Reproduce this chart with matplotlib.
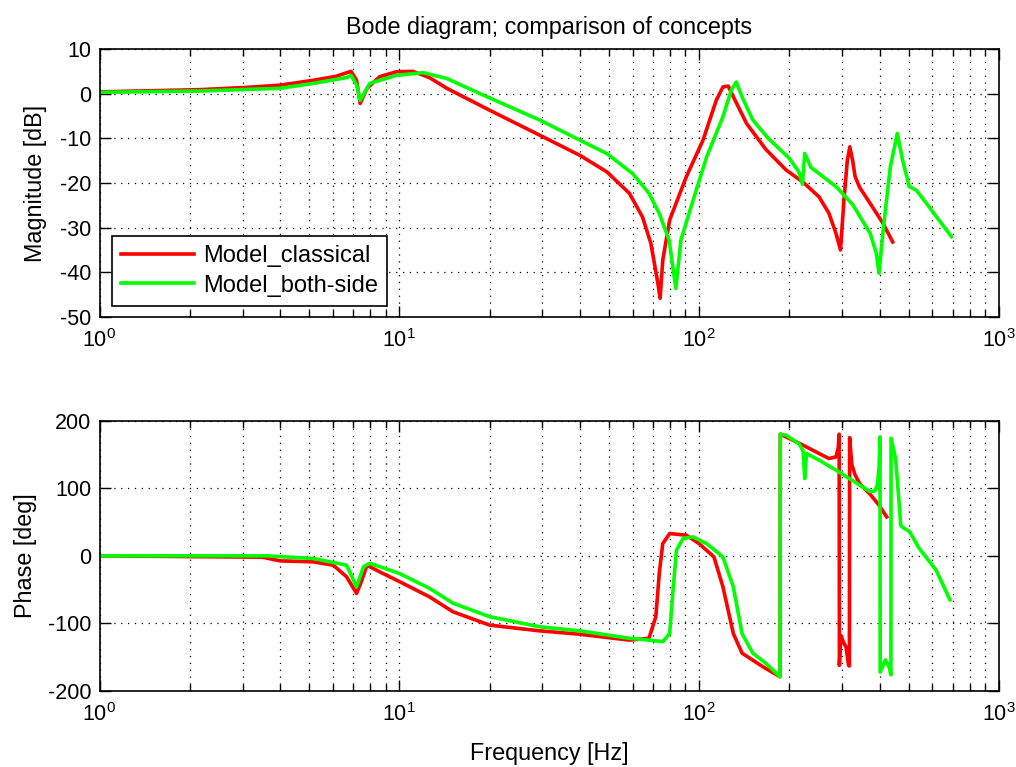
import matplotlib
matplotlib.use("Agg")
import matplotlib.pyplot as plt
from matplotlib.ticker import LogLocator, NullFormatter

plt.rcParams['font.family'] = ['Liberation Sans', 'DejaVu Sans']
plt.rcParams['mathtext.fontset'] = 'custom'
plt.rcParams['mathtext.rm'] = 'Liberation Sans'
plt.rcParams['mathtext.it'] = 'Liberation Sans:italic'
plt.rcParams['mathtext.bf'] = 'Liberation Sans:bold'
plt.rcParams['axes.unicode_minus'] = False

# ---------------- data ----------------
title = "Bode diagram; comparison of concepts"
series_names = ["Model_classical", "Model_both-side"]
xticks = [1, 10, 100, 1000]
xtick_labels = [r"$\mathregular{10^{0}}$", r"$\mathregular{10^{1}}$",
                r"$\mathregular{10^{2}}$", r"$\mathregular{10^{3}}$"]
mag_ticks = [-50, -40, -30, -20, -10, 0, 10]
phase_ticks = [-200, -100, 0, 100, 200]

# magnitude, classical model
f_mag_classical = [1, 2.16, 3.09, 4.0, 5.17, 6.16, 6.9, 7.2, 7.4, 7.8, 8.6, 9.77,
                   11.1, 12.6, 14.4, 20, 29.4, 40, 49.2, 58.5, 64.7, 69, 72.8,
                   74.1, 75.6, 79.7, 90.6, 103, 114, 120, 125, 130, 144, 167,
                   195, 222, 251, 271, 286, 296, 304, 312, 318, 325, 331, 343,
                   372, 410, 442]
mag_classical = [0.4, 0.9, 1.4, 1.9, 3.0, 3.9, 5.0, 3.0, -2.2, 1.2, 3.8, 4.9,
                 5.0, 3.6, 1.2, -3.7, -9.3, -13.8, -17.5, -22.3, -27.6, -33.5,
                 -42.4, -45.8, -37.3, -28.3, -18.6, -10.4, -1.5, 1.5, 1.7, -0.7,
                 -6.7, -12.5, -17.1, -19.8, -23.1, -26.8, -31.3, -35.0, -23.8,
                 -14.9, -11.9, -15.0, -18.5, -21.0, -24.6, -29.0, -33.2]

# magnitude, both-side model
f_mag_both = [1, 2.16, 4, 5.17, 6.67, 6.9, 7.2, 7.4, 7.97, 9.77, 12, 14.4, 18.6,
              24, 29.4, 40, 49.2, 60, 68, 73.6, 79.4, 83.6, 86.9, 95.5, 106,
              120, 128, 133, 139, 151, 170, 200, 215, 221, 225, 236, 286, 325,
              372, 390, 398, 412, 434, 458, 477, 502, 530, 584, 694]
mag_both = [0.3, 0.6, 1.2, 2.3, 3.6, 4.1, 2.0, -1.5, 2.3, 4.1, 4.7, 3.4, 0.0,
            -3.3, -5.9, -10.4, -13.4, -17.9, -22.3, -26.8, -32.8, -43.6, -32.8,
            -23.8, -14.1, -5.2, 0.8, 2.6, -0.7, -5.9, -10.0, -14.5, -17.5,
            -20.3, -13.4, -16.5, -20.8, -24.8, -31.3, -35.8, -40.2, -29.8,
            -16.4, -8.9, -14.9, -20.8, -21.6, -25.3, -32.0]

# phase, classical model
f_ph_classical = [1, 3.5, 4.0, 5.17, 6.02, 6.67, 7.2, 7.5, 7.8, 8.6, 10.05, 12.6,
                  15.1, 20, 29.4, 40, 58.5, 68, 71.7, 73.6, 75.6, 79.7, 90.6,
                  100, 112, 120, 130, 139, 163, 186, 186.5, 200, 222, 251, 271,
                  286, 291, 293, 293.5, 297, 303, 309, 315, 317, 317.5, 323, 331,
                  343, 372, 398, 422]
ph_classical = [0, -2, -7.4, -8.9, -13.8, -31, -55.6, -36, -13.8, -23.7, -38.5,
                -60.6, -82.8, -102.5, -111, -116, -124.7, -122, -90, -26, 18,
                33, 30.6, 18, -1.5, -45.8, -115, -144, -164, -179, 180, 173.6,
                163.8, 151.5, 144, 146.5, 160, 180, -162, -118, -128, -135,
                -162, -163, 175, 135, 120, 107, 91, 75, 57.7]

# phase, both-side model
f_ph_both = [1, 3.6, 5.17, 6.67, 7.2, 7.6, 7.97, 10, 12.6, 15.1, 20, 29.4, 40,
             58.5, 68, 75.6, 79.7, 82, 84, 88.4, 95.5, 106, 120, 130, 139, 151,
             167, 186, 186.5, 195, 215, 222, 225, 228, 251, 286, 323, 372, 385,
             393, 398, 401, 401.5, 418, 430, 436, 436.5, 452, 466, 470, 478,
             503, 540, 617, 686]
ph_both = [0, 0, -3.9, -13.8, -45.8, -16, -11, -26, -48, -70, -90, -105, -111,
           -122, -124.7, -127, -115, -45.8, 8.4, 25.7, 28, 18, -1.5, -46, -115,
           -144, -159, -179, 180, 178.5, 166, 156, 114.5, 151.5, 141.6, 126.8,
           112, 95, 96, 105, 130, 176, -172, -154, -164, -176, 174, 144, 70,
           45, 42, 36, 12, -21, -65]

# ---------------- figure ----------------
W, H = 1016, 767
fig = plt.figure(figsize=(W / 100, H / 100), dpi=100)
ax1 = fig.add_axes([99.5 / W, 1 - 317 / H, 899.5 / W, 268 / H])
ax2 = fig.add_axes([99.5 / W, 1 - 691 / H, 899.5 / W, 270.3 / H])

red = (1, 0, 0)
green = (0, 1, 0)
lw = 2.6
fs_tick = 15.5
fs_text = 16.8

ax1.semilogx(f_mag_classical, mag_classical, color=red, lw=lw, label=series_names[0])
ax1.semilogx(f_mag_both, mag_both, color=green, lw=lw, label=series_names[1])
ax2.semilogx(f_ph_classical, ph_classical, color=red, lw=lw)
ax2.semilogx(f_ph_both, ph_both, color=green, lw=lw)

for ax, yt in ((ax1, mag_ticks), (ax2, phase_ticks)):
    ax.set_xlim(1, 1000)
    ax.set_ylim(yt[0], yt[-1])
    ax.set_xticks(xticks)
    ax.set_xticklabels(xtick_labels)
    ax.xaxis.set_minor_locator(LogLocator(base=10, subs=range(2, 10)))
    ax.xaxis.set_minor_formatter(NullFormatter())
    ax.set_yticks(yt)
    ax.grid(True, which='major', axis='both', color='black',
            linestyle=(0, (1, 4.5)), linewidth=0.9)
    ax.grid(True, which='minor', axis='x', color='black',
            linestyle=(0, (1, 4.5)), linewidth=0.9)
    ax.tick_params(which='both', direction='in', top=True, right=True,
                   labelsize=fs_tick, width=1.0, color='black')
    ax.tick_params(which='major', length=8)
    ax.tick_params(which='minor', length=5)
    ax.tick_params(axis='x', which='major', pad=9)
    ax.tick_params(axis='y', which='major', pad=6)
    for s in ax.spines.values():
        s.set_linewidth(1.2)
        s.set_color('black')

ax1.set_title(title, fontsize=fs_text, pad=11)
ax1.set_ylabel("Magnitude [dB]", fontsize=fs_text)
ax1.yaxis.set_label_coords(-0.058, 0.5)
ax2.set_ylabel("Phase [deg]", fontsize=fs_text)
ax2.yaxis.set_label_coords(-0.069, 0.5)
ax2.set_xlabel("Frequency [Hz]", fontsize=fs_text)
ax2.xaxis.set_label_coords(0.5, -0.188)

leg = ax1.legend(loc='lower left', bbox_to_anchor=(0.0136, 0.041),
                 borderaxespad=0, fontsize=17, fancybox=False, framealpha=1,
                 edgecolor='black', handlelength=3.1, handletextpad=0.35,
                 labelspacing=0.3, borderpad=0.4)
leg.get_frame().set_linewidth(1.2)

fig.savefig("out.png", dpi=100)
